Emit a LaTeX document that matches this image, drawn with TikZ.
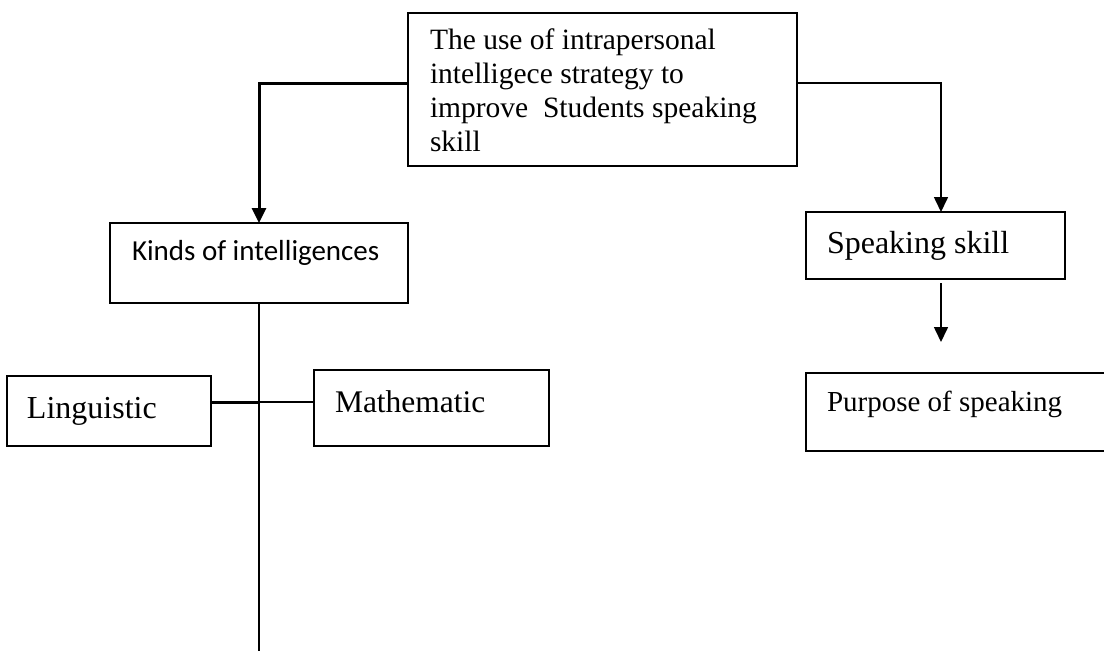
\documentclass[tikz,border=0pt]{standalone}
\usepackage{fontspec}
\setmainfont{Liberation Serif}
\newfontfamily\calibrifont{Carlito}
\usetikzlibrary{arrows.meta}
\newcommand\setfs[2]{\fontsize{#1}{#2}\selectfont\spaceskip=0pt\xspaceskip=0pt\lineskiplimit=-100pt\lineskip=0pt\relax}
\begin{document}
\begin{tikzpicture}[x=1pt,y=-1pt,
  box/.style={draw, line width=1.4pt, anchor=north west, inner ysep=0pt, outer sep=0pt, align=left},
  conn/.style={line width=1.6pt},
  thickconn/.style={line width=3pt},
  tip/.style={-{Triangle[length=15pt,width=14pt]}}]
\useasboundingbox (0,0) rectangle (1104,651);

\node[box, font=\setfs{29.5}{34.3}, inner xsep=22pt, text width=345pt, text height=36pt, text depth=117pt] (top) at (408,13)
  {\setfs{29.5}{34.3}The use of intrapersonal\\ intelligece strategy to\\ improve\ \ Students speaking\\ skill};

\node[box, font=\calibrifont\setfs{29}{35}, inner xsep=22pt, text width=254pt, text height=37pt, text depth=43pt] (kinds) at (110,223)
  {\setfs{29}{35}Kinds of intelligences};

\node[box, font=\setfs{32}{38}, inner xsep=21pt, text width=217pt, text height=41pt, text depth=26pt] (speak) at (806,212)
  {\setfs{32}{38}Speaking skill};

\node[box, font=\setfs{29}{35}, inner xsep=21pt, text width=270pt, text height=38pt, text depth=40pt] (purpose) at (806,373)
  {\setfs{29}{35}Purpose of speaking};

\node[box, font=\setfs{32}{38}, inner xsep=20pt, text width=164pt, text height=42pt, text depth=28pt] (ling) at (7,376)
  {\setfs{32}{38}Linguistic};

\node[box, font=\setfs{31.5}{38}, inner xsep=21pt, text width=193pt, text height=42pt, text depth=34pt] (math) at (314,370)
  {\setfs{31.5}{38}Mathematic};

% connectors from the top box
\draw[thickconn, tip] ([yshift=6.5pt]top.west) -| (kinds.north);
\draw[conn, tip] ([yshift=6.5pt]top.east) -| ([xshift=5.5pt]speak.north);

% speaking skill -> purpose
\coordinate (a1) at ([xshift=5.5pt,yshift=-4pt]speak.south);
\draw[conn, tip] (a1) -- ([yshift=31pt]a1 |- purpose.north);

% kinds trunk
\coordinate (bottom) at (259,655);
\draw[conn] (kinds.south) -- (kinds.south |- bottom);
\coordinate (j) at (259,402);
\draw[thickconn] (ling.east |- j) -- (j);
\draw[line width=1.2pt] (j) -- (math.west |- j);
\end{tikzpicture}
\end{document}
